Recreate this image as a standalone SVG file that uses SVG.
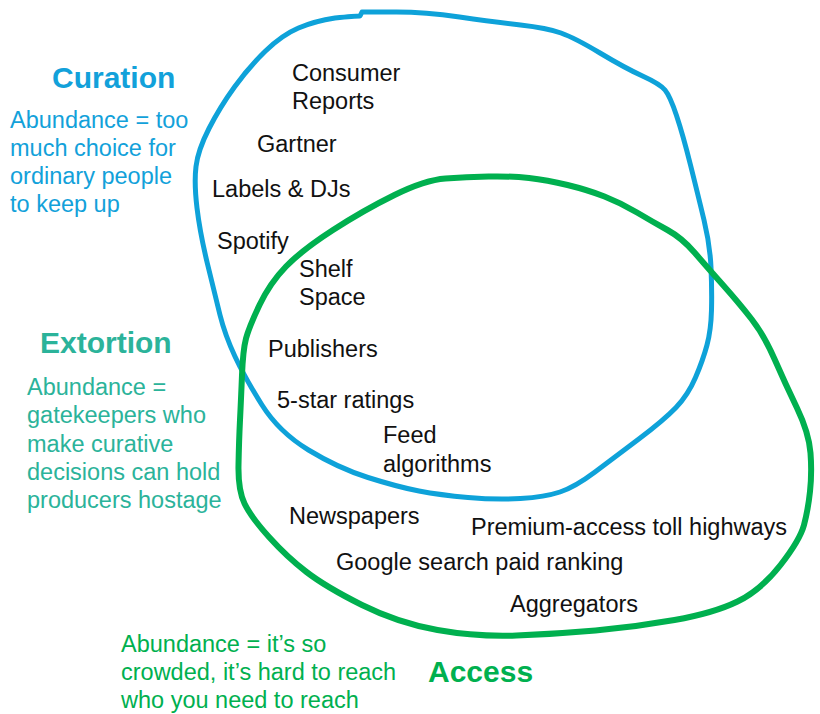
<svg xmlns="http://www.w3.org/2000/svg" width="820" height="714" viewBox="0 0 820 714">
  <style>
    .loop { fill: none; stroke-linecap: round; stroke-linejoin: round; }
    .blue-loop { stroke: #0ea2d9; stroke-width: 5; }
    .green-loop { stroke: #00b04f; stroke-width: 6; }
    text { font-family: "Liberation Sans", Arial, Helvetica, sans-serif; font-size: 23.5px; }
    .item { fill: #111111; }
    .head { font-size: 30px; font-weight: bold; }
    .c-blue { fill: #12a1da; }
    .c-teal { fill: #2bb39a; }
    .c-green { fill: #00b04f; }
  </style>
  <rect width="820" height="714" fill="#ffffff"/>

  <!-- hand-drawn loops -->
  <g id="connectors">
    <path id="curation-loop" class="loop blue-loop" d="M335,18 Q355,16 360,16 L362,12 Q368,12 396.5,12 Q425,12 459.5,17 Q494,22 520.5,25 Q547,28 561,33 Q575,38 600,53 Q625,68 642.5,76 Q660,84 665,90 Q670,96 676.5,115.5 Q683,135 690.5,165 Q698,195 704,220 Q710,245 711,267.5 Q712,290 711.5,310 Q711,330 707,345 Q703,360 695.5,377.5 Q688,395 676,407.5 Q664,420 639.5,438.5 Q615,457 595,472 Q575,487 560,492 Q545,497 520.5,498.5 Q496,500 468,497.5 Q440,495 419,491 Q398,487 368,477.5 Q338,468 308.5,450 Q279,432 262,405 Q245,378 235,356.5 Q225,335 220,315 Q215,295 207.5,264 Q200,233 197,208 Q194,183 196,166.5 Q198,150 209,128.5 Q220,107 234.5,87 Q249,67 265.5,51 Q282,35 298.5,28 Q315,21 335,18 Z"/>
    <path id="access-loop" class="loop green-loop" d="M445.5,178.5 Q466,177 488.5,176.5 Q511,176 529,178 Q547,180 567.5,185 Q588,190 604.5,196.5 Q621,203 637,212.5 Q653,222 667.5,230 Q682,238 694.5,252.5 Q707,267 723,285 Q739,303 751.5,319 Q764,335 774.5,359 Q785,383 797,408 Q809,433 810.5,453 Q812,473 810,491.5 Q808,510 804,525 Q800,540 780.5,565 Q761,590 737.5,601.5 Q714,613 674.5,620 Q635,627 595.5,630.5 Q556,634 516.5,635.5 Q477,637 437.5,630 Q398,623 362,605 Q326,587 306.5,572 Q287,557 269,537 Q251,517 244.5,503.5 Q238,490 238.5,465 Q239,440 240,420 Q241,400 242,375 Q243,350 246,338.5 Q249,327 259.5,305 Q270,283 286,266.5 Q302,250 333,230 Q364,210 394.5,195 Q425,180 445.5,178.5 Z"/>
  </g>

  <!-- category captions -->
  <g id="curation">
    <text class="head c-blue" x="52" y="88">Curation</text>
    <text class="c-blue" x="10" y="128">Abundance = too</text>
    <text class="c-blue" x="10" y="156">much choice for</text>
    <text class="c-blue" x="10" y="184">ordinary people</text>
    <text class="c-blue" x="10" y="212">to keep up</text>
  </g>
  <g id="extortion">
    <text class="head c-teal" x="40" y="353">Extortion</text>
    <text class="c-teal" x="27" y="395">Abundance =</text>
    <text class="c-teal" x="27" y="423">gatekeepers who</text>
    <text class="c-teal" x="27" y="452">make curative</text>
    <text class="c-teal" x="27" y="480">decisions can hold</text>
    <text class="c-teal" x="27" y="508">producers hostage</text>
  </g>
  <g id="access">
    <text class="head c-green" x="428" y="682">Access</text>
    <text class="c-green" x="121" y="652">Abundance = it’s so</text>
    <text class="c-green" x="121" y="680">crowded, it’s hard to reach</text>
    <text class="c-green" x="121" y="708">who you need to reach</text>
  </g>

  <!-- examples -->
  <g id="consumer-reports"><text class="item" x="292" y="81">Consumer</text><text class="item" x="292" y="109">Reports</text></g>
  <g id="gartner"><text class="item" x="257" y="152">Gartner</text></g>
  <g id="labels-djs"><text class="item" x="212" y="197">Labels &amp; DJs</text></g>
  <g id="spotify"><text class="item" x="217" y="249">Spotify</text></g>
  <g id="shelf-space"><text class="item" x="299" y="277">Shelf</text><text class="item" x="299" y="305">Space</text></g>
  <g id="publishers"><text class="item" x="268" y="357">Publishers</text></g>
  <g id="star-ratings"><text class="item" x="277" y="408">5-star ratings</text></g>
  <g id="feed-algorithms"><text class="item" x="383" y="443">Feed</text><text class="item" x="383" y="472">algorithms</text></g>
  <g id="newspapers"><text class="item" x="289" y="524">Newspapers</text></g>
  <g id="toll-highways"><text class="item" x="471" y="535">Premium-access toll highways</text></g>
  <g id="google-ranking"><text class="item" x="336" y="570">Google search paid ranking</text></g>
  <g id="aggregators"><text class="item" x="510" y="612">Aggregators</text></g>
</svg>
